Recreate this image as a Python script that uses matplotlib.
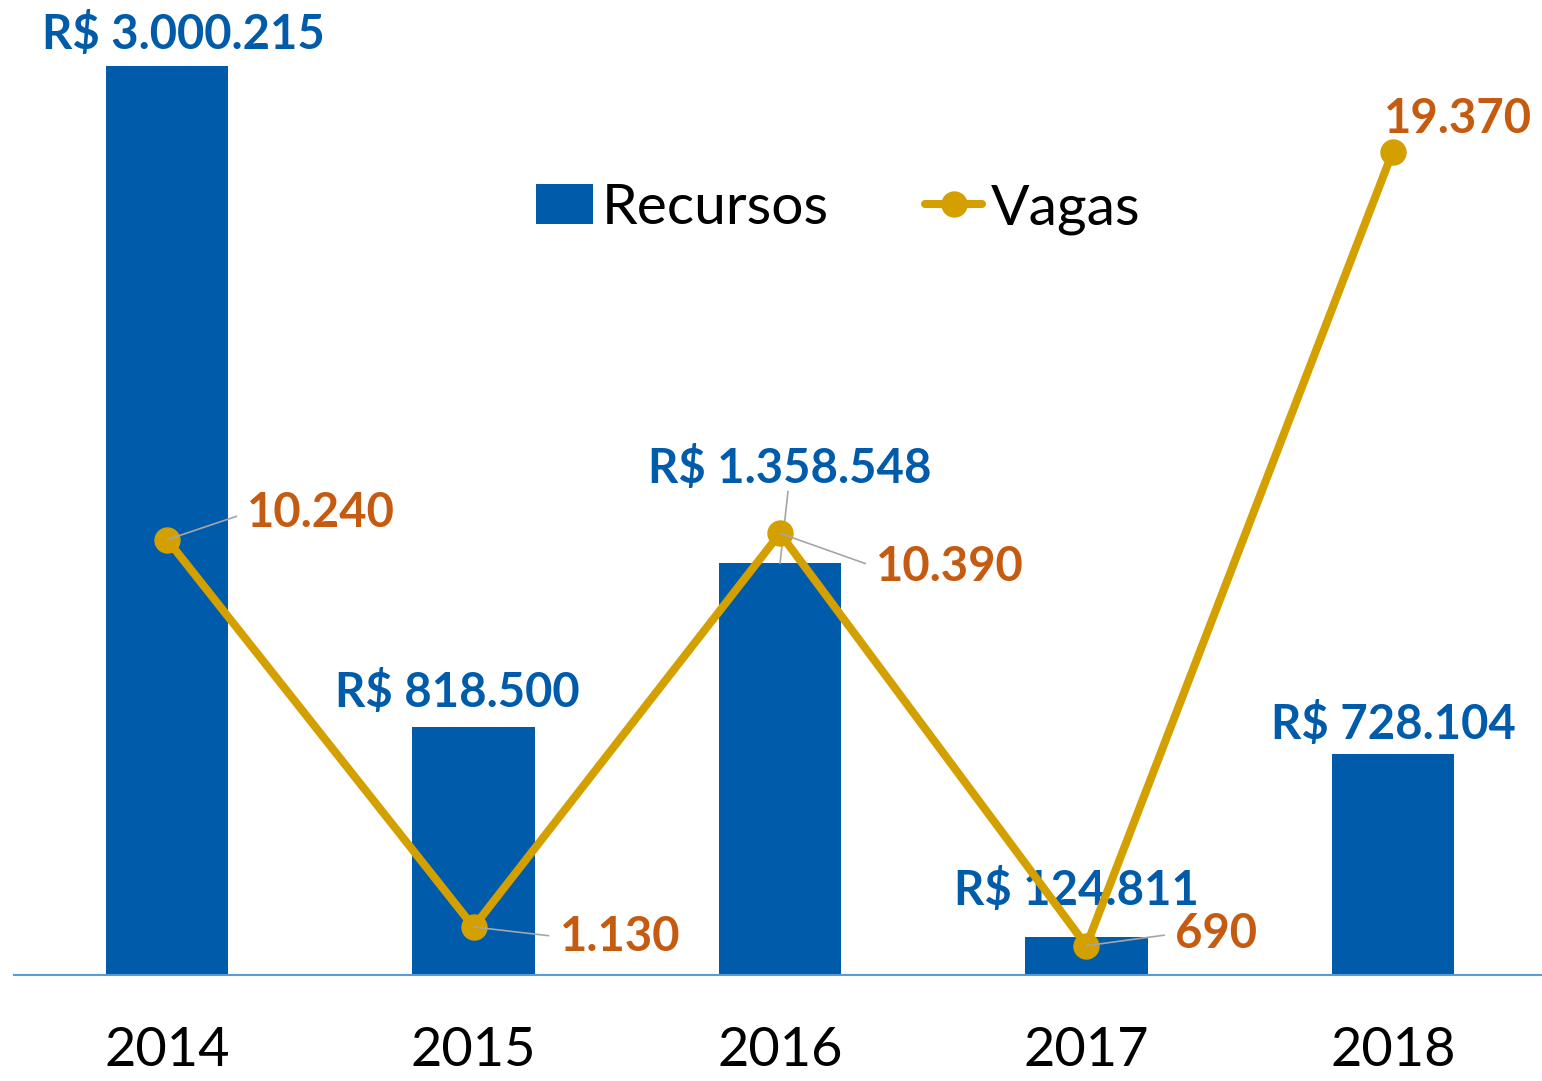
import matplotlib
matplotlib.use('Agg')
import matplotlib.pyplot as plt
import numpy as np

anos = ['2014', '2015', '2016', '2017', '2018']
recursos = [3000215, 818500, 1358548, 124811, 728104]
vagas = [10240, 1130, 10390, 690, 19370]
rotulos_recursos = ['R$ 3.000.215', 'R$ 818.500', 'R$ 1.358.548', 'R$ 124.811', 'R$ 728.104']
rotulos_vagas = ['10.240', '1.130', '10.390', '690', '19.370']

# label offsets in pixels (dx, dy)
off_rec = [(16, 31), (-16, 35), (10, 95), (-10, 47), (1, 30)]
off_vag = [(80, 27), (86, -10), (96, -34), (89, 12), (-9, 33)]
leader_vag = [True, True, True, True, False]

azul = '#005BAA'
ouro = '#D4A000'
laranja = '#C55A11'
fonte = 'Lato'

fig = plt.figure(figsize=(15.42, 10.81), dpi=100)
ax = fig.add_axes([14/1542, 106/1081, 1532/1542, 960/1081])
x = np.arange(len(anos))
barras = ax.bar(x, recursos, width=0.4, color=azul, label='Recursos', zorder=1)
ax.set_xlim(-0.5, 4.5)
ax.set_ylim(0, 3000215*960/909)

ax2 = ax.twinx()
linha, = ax2.plot(x, vagas, color=ouro, lw=5.8, marker='o', ms=18, label='Vagas',
                  solid_capstyle='round', zorder=3)
ax2.set_ylim(0, 960/0.04251)

for a in (ax, ax2):
    for s in a.spines.values():
        s.set_visible(False)
    a.set_yticks([])
ax.spines['bottom'].set_visible(True)
ax.spines['bottom'].set_color('#5B9BD5')
ax.spines['bottom'].set_linewidth(1.5)
ax.set_xticks(x)
ax.set_xticklabels(anos, fontsize=39, family=fonte)
ax.tick_params(axis='x', length=0, pad=37)

for i in range(len(anos)):
    ax.annotate(rotulos_recursos[i], (x[i], recursos[i]), xytext=off_rec[i],
                textcoords='offset pixels', ha='center', va='center',
                fontsize=34, fontweight='bold', color=azul, family=fonte, zorder=5)
    ap = None
    if leader_vag[i]:
        ap = dict(arrowstyle='-', color='#A6A6A6', lw=1.2, shrinkA=6, shrinkB=0,
                  relpos=(0, 0.5))
    ax2.annotate(rotulos_vagas[i], (x[i], vagas[i]), xytext=off_vag[i],
                 textcoords='offset pixels', ha='left', va='center',
                 fontsize=34, fontweight='bold', color=laranja, family=fonte,
                 arrowprops=ap, zorder=5)

# leader for 2016 bar label
ax.annotate('', (x[2], recursos[2]), xytext=(8, 72), textcoords='offset pixels',
            arrowprops=dict(arrowstyle='-', color='#A6A6A6', lw=1.2, shrinkA=0, shrinkB=0))

leg = ax2.legend([barras, linha], ['Recursos', 'Vagas'], loc='center',
                 bbox_to_anchor=(0.538, 0.798), ncol=2, frameon=False,
                 prop=dict(family=fonte, size=41), handlelength=1.0, handletextpad=0.15,
                 columnspacing=1.7, borderaxespad=0, borderpad=0)

fig.savefig('out.png', dpi=100)
